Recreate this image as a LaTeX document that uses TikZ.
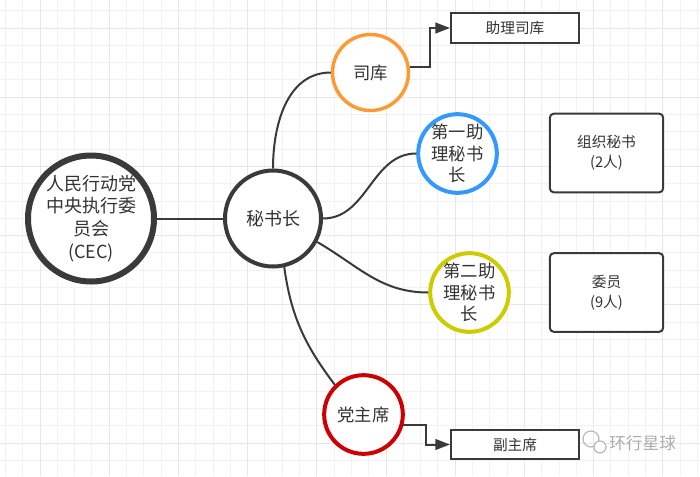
\documentclass[tikz,border=0pt]{standalone}
\usepackage{fontspec}
\setmainfont{Noto Sans CJK SC}
\usetikzlibrary{arrows.meta}

\definecolor{txtgray}{HTML}{333333}
\definecolor{darkline}{HTML}{3A3A3A}
\definecolor{skorange}{HTML}{FF9933}
\definecolor{dyblue}{HTML}{3399FF}
\definecolor{deyellow}{HTML}{CCCC00}
\definecolor{dzxred}{HTML}{CC0000}

\begin{document}
\begin{tikzpicture}[x=0.75pt, y=-0.75pt,
    every node/.style={text=txtgray, align=center, inner sep=0pt},
    minorline/.style={gray!10, line width=0.75pt},
    majorline/.style={gray!19, line width=0.75pt},
    cecnode/.style={circle, draw=darkline, line width=4.5pt, fill=white, minimum size=94.5pt, font=\fontsize{13.5}{17}\selectfont},
    msznode/.style={circle, draw=darkline, line width=3pt, fill=white, minimum size=72pt, font=\fontsize{13.5}{16}\selectfont},
    rolenode/.style={circle, line width=3pt, fill=white, minimum size=59pt, font=\fontsize{13}{16}\selectfont},
    plainbox/.style={draw=darkline, line width=1.5pt, fill=white, minimum width=96pt, minimum height=22pt, font=\fontsize{11}{15}\selectfont},
    roundbox/.style={draw=darkline, line width=1.5pt, rounded corners=3pt, fill=white, minimum width=85pt, minimum height=59pt, font=\fontsize{11}{15}\selectfont},
    link/.style={darkline, line width=1.5pt},
    arrowlink/.style={darkline, line width=1.5pt, -{Triangle[length=11pt, width=8pt]}}
]
    \useasboundingbox (0,0) rectangle (700,476);
    \fill[white] (0,0) rectangle (700,476);

    % Background grid
    \foreach \i in {0,...,40}
        \draw[minorline] ({5.4+17.3*\i},0) -- ({5.4+17.3*\i},476);
    \foreach \i in {0,...,26}
        \draw[minorline] (0,{10.7+17.3*\i}) -- (700,{10.7+17.3*\i});
    \foreach \i in {0,...,9}
        \draw[majorline] ({40+69.2*\i},0) -- ({40+69.2*\i},476);
    \foreach \i in {0,...,6}
        \draw[majorline] (0,{28+69.2*\i}) -- (700,{28+69.2*\i});

    % Circles
    \node[cecnode] (cec) at (91,218.5) {人民行动党\\中央执行委\\员会\\(CEC)};
    \node[msznode] (msz) at (273,218.5) {秘书长};
    \node[rolenode, draw=skorange, line width=2.6pt, minimum size=57pt] (sk) at (370.5,72.5) {司库};
    \node[rolenode, draw=dyblue] (dy) at (457.5,153.5) {第一助\\理秘书\\长};
    \node[rolenode, draw=deyellow] (de) at (469.5,292.5) {第二助\\理秘书\\长};
    \node[rolenode, draw=dzxred] (dzx) at (363.5,414.5) {党主席};

    % Boxes
    \node[plainbox] (zlsk) at (515,28) {助理司库};
    \node[plainbox] (fzx) at (515,444.5) {副主席};
    \node[roundbox] (zzms) at (606.5,153) {组织秘书\\(2人)};
    \node[roundbox] (wy) at (606.5,292.5) {委员\\(9人)};

    % Connectors
    \draw[link] (cec) -- (msz);
    \draw[link] (msz.north) to[out=90, in=180] (sk.west);
    \draw[link] (msz.east) to[out=0, in=180] (dy.west);
    \draw[link] (msz.-28) to[out=-30, in=180] (de.west);
    \draw[link] (msz.-77) to[out=-82, in=127] (dzx.134);
    \draw[arrowlink] (sk.8) -- ++(20,0) |- (zlsk.west);
    \draw[arrowlink] (dzx.-15) -- ++(23,0) |- (fzx.west);

    % Watermark
    \draw[gray!55, line width=0.9pt] (591,439) circle (8);
    \draw[gray!55, line width=0.9pt, fill=white] (600,447) circle (6);
    \node[text=gray!65, font=\fontsize{12.5}{15}\selectfont, anchor=west] (wm) at (609,443) {环行星球};
\end{tikzpicture}
\end{document}
